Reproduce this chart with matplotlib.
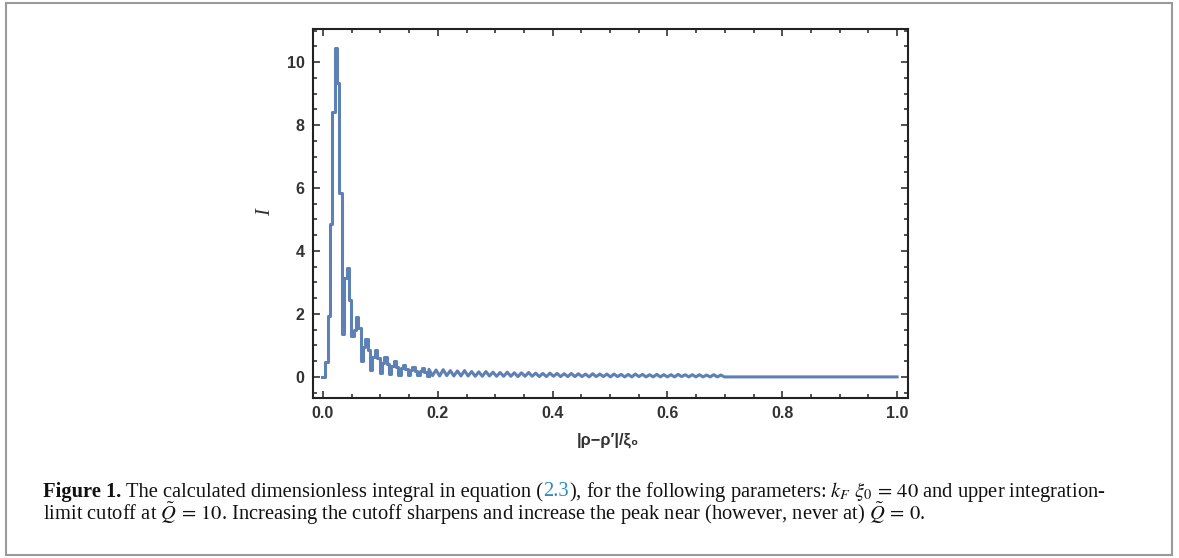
import numpy as np
import matplotlib
matplotlib.use("Agg")
import matplotlib.pyplot as plt
from matplotlib.patches import Rectangle
from matplotlib.ticker import MultipleLocator

# step samples of the integral around the main peak
x_start = -0.002
x_step = 0.0041
I_near = [0.0, 0.0, 0.47, 1.95, 4.85, 8.42, 10.45, 9.33, 5.83, 1.35,
          3.15, 3.45, 2.45, 1.30,
          1.50, 1.90, 1.55, 0.50,
          0.95, 1.20, 0.85, 0.22,
          0.62, 0.85, 0.60, 0.13,
          0.45, 0.62, 0.42, 0.08,
          0.36, 0.50, 0.33, 0.06,
          0.27, 0.38, 0.25, 0.05,
          0.22, 0.32, 0.20, 0.05,
          0.18, 0.28, 0.17, 0.04]

# small ripples further out, one peak and one trough per wiggle
tail_step = 0.0062
tail_peaks = [0.24, 0.22, 0.23, 0.20, 0.19, 0.20, 0.17, 0.16, 0.17, 0.15,
              0.14, 0.15, 0.13, 0.13, 0.14, 0.12, 0.11, 0.12, 0.11, 0.10,
              0.11, 0.10, 0.09, 0.10, 0.09, 0.09, 0.09, 0.08, 0.08, 0.09,
              0.08, 0.07, 0.08, 0.07, 0.07, 0.08, 0.07, 0.07, 0.07, 0.06,
              0.07, 0.06]
tail_troughs = [0.04, 0.03, 0.04, 0.03, 0.03, 0.03, 0.02, 0.02, 0.03, 0.02,
                0.02, 0.02, 0.01, 0.02, 0.02, 0.01, 0.01, 0.02, 0.01, 0.01,
                0.01, 0.01, 0.00, 0.01, 0.01, 0.00, 0.01, 0.00, 0.00, 0.01,
                0.00, 0.00, 0.00, 0.00, 0.00, 0.01, 0.00, 0.00, 0.00, 0.00,
                0.00, 0.00]
x_end = 1.0

x_ticks = [0.0, 0.2, 0.4, 0.6, 0.8, 1.0]
y_ticks = [0, 2, 4, 6, 8, 10]

caption_bold = "Figure 1."
caption_a = "The calculated dimensionless integral in equation ("
caption_ref = "2.3"
caption_b = r"), for the following parameters: $k_F\ \xi_0\,=\,40$ and upper integration-"
caption_line2 = (r"limit cutoff at $\tilde{Q}\,=\,10$. Increasing the cutoff sharpens and increase "
                 r"the peak near (however, never at) $\tilde{Q}\,=\,0$.")

plt.rcParams['mathtext.fontset'] = 'stix'

W, H = 1179, 558
fig = plt.figure(figsize=(W / 100, H / 100), dpi=100)
ax = fig.add_axes([313 / W, 1 - 398 / H, (908 - 313) / W, (398 - 29) / H])

x_near = x_start + x_step * np.arange(len(I_near))
I_tail = []
for p, t in zip(tail_peaks, tail_troughs):
    I_tail += [p, t]
x_tail = x_near[-1] + x_step / 2 + tail_step * np.arange(len(I_tail))
x_tail = np.concatenate([x_tail, [x_tail[-1] + tail_step, x_end]])
I_tail = np.concatenate([I_tail, [0.0, 0.0]])

blue = '#5e81b5'
ax.plot(np.append(x_near, x_near[-1] + x_step / 2), np.append(I_near, I_near[-1]),
        drawstyle='steps-mid', color=blue, lw=2.2)
ax.plot(np.insert(x_tail, 0, x_near[-1] + x_step / 2), np.insert(I_tail, 0, I_near[-1]),
        color=blue, lw=2.2)

ax.set_xlim(-0.0174, 1.019)
ax.set_ylim(-0.67, 11.05)
ax.set_xticks(x_ticks)
ax.set_yticks(y_ticks)
ax.xaxis.set_minor_locator(MultipleLocator(0.05))
ax.yaxis.set_minor_locator(MultipleLocator(0.5))
ax.tick_params(which='both', direction='in', top=True, right=True, width=1.1, color='#222222')
ax.tick_params(which='major', length=5)
ax.tick_params(which='minor', length=3)
ax.tick_params(axis='x', pad=6)
ax.tick_params(axis='y', pad=6)
for lab in ax.get_xticklabels() + ax.get_yticklabels():
    lab.set_fontfamily('Liberation Sans')
    lab.set_fontweight('bold')
    lab.set_fontsize(11.5)
    lab.set_color('#333333')
for s in ax.spines.values():
    s.set_linewidth(1.5)
    s.set_color('#222222')

fig.text(608 / W, 1 - 440 / H, "|ρ−ρ′|/ξ₀", ha='center', va='center',
         family=['Liberation Sans', 'DejaVu Sans'], fontweight='bold', fontsize=11.8, color='#333333')
fig.text(266 / W, 1 - 212 / H, "I", ha='center', va='center', rotation=90,
         family='Liberation Serif', style='italic', fontsize=15, color='#333333')

# caption, built piece by piece so bold and link colour can differ
r = fig.canvas.get_renderer()
cap = dict(family='Liberation Serif', fontsize=14.75, va='center', color='#111111')
t1 = fig.text(0, 0, "x x", **cap)
t2 = fig.text(0, 0, "xx", **cap)
space = (t1.get_window_extent(r).width - t2.get_window_extent(r).width) / W
t1.remove()
t2.remove()

y1 = 1 - 492 / H
xpos = 43 / W
pieces = [(caption_bold, dict(fontweight='bold')),
          (caption_a, dict()),
          (caption_ref, dict(color='#2b8cc4')),
          (caption_b, dict())]
for i, (s, kw) in enumerate(pieces):
    t = fig.text(xpos, y1, s, **{**cap, **kw})
    xpos = t.get_window_extent(r).x1 / W
    if i == 0:
        xpos += space
fig.text(43 / W, 1 - 514 / H, caption_line2, **cap)

fig.patches.append(Rectangle((6 / W, 3 / H), (1172 - 6) / W, (555 - 3) / H,
                             transform=fig.transFigure, fill=False, ec='#9a9a9a', lw=1.5))

fig.savefig("out.png", dpi=100)
